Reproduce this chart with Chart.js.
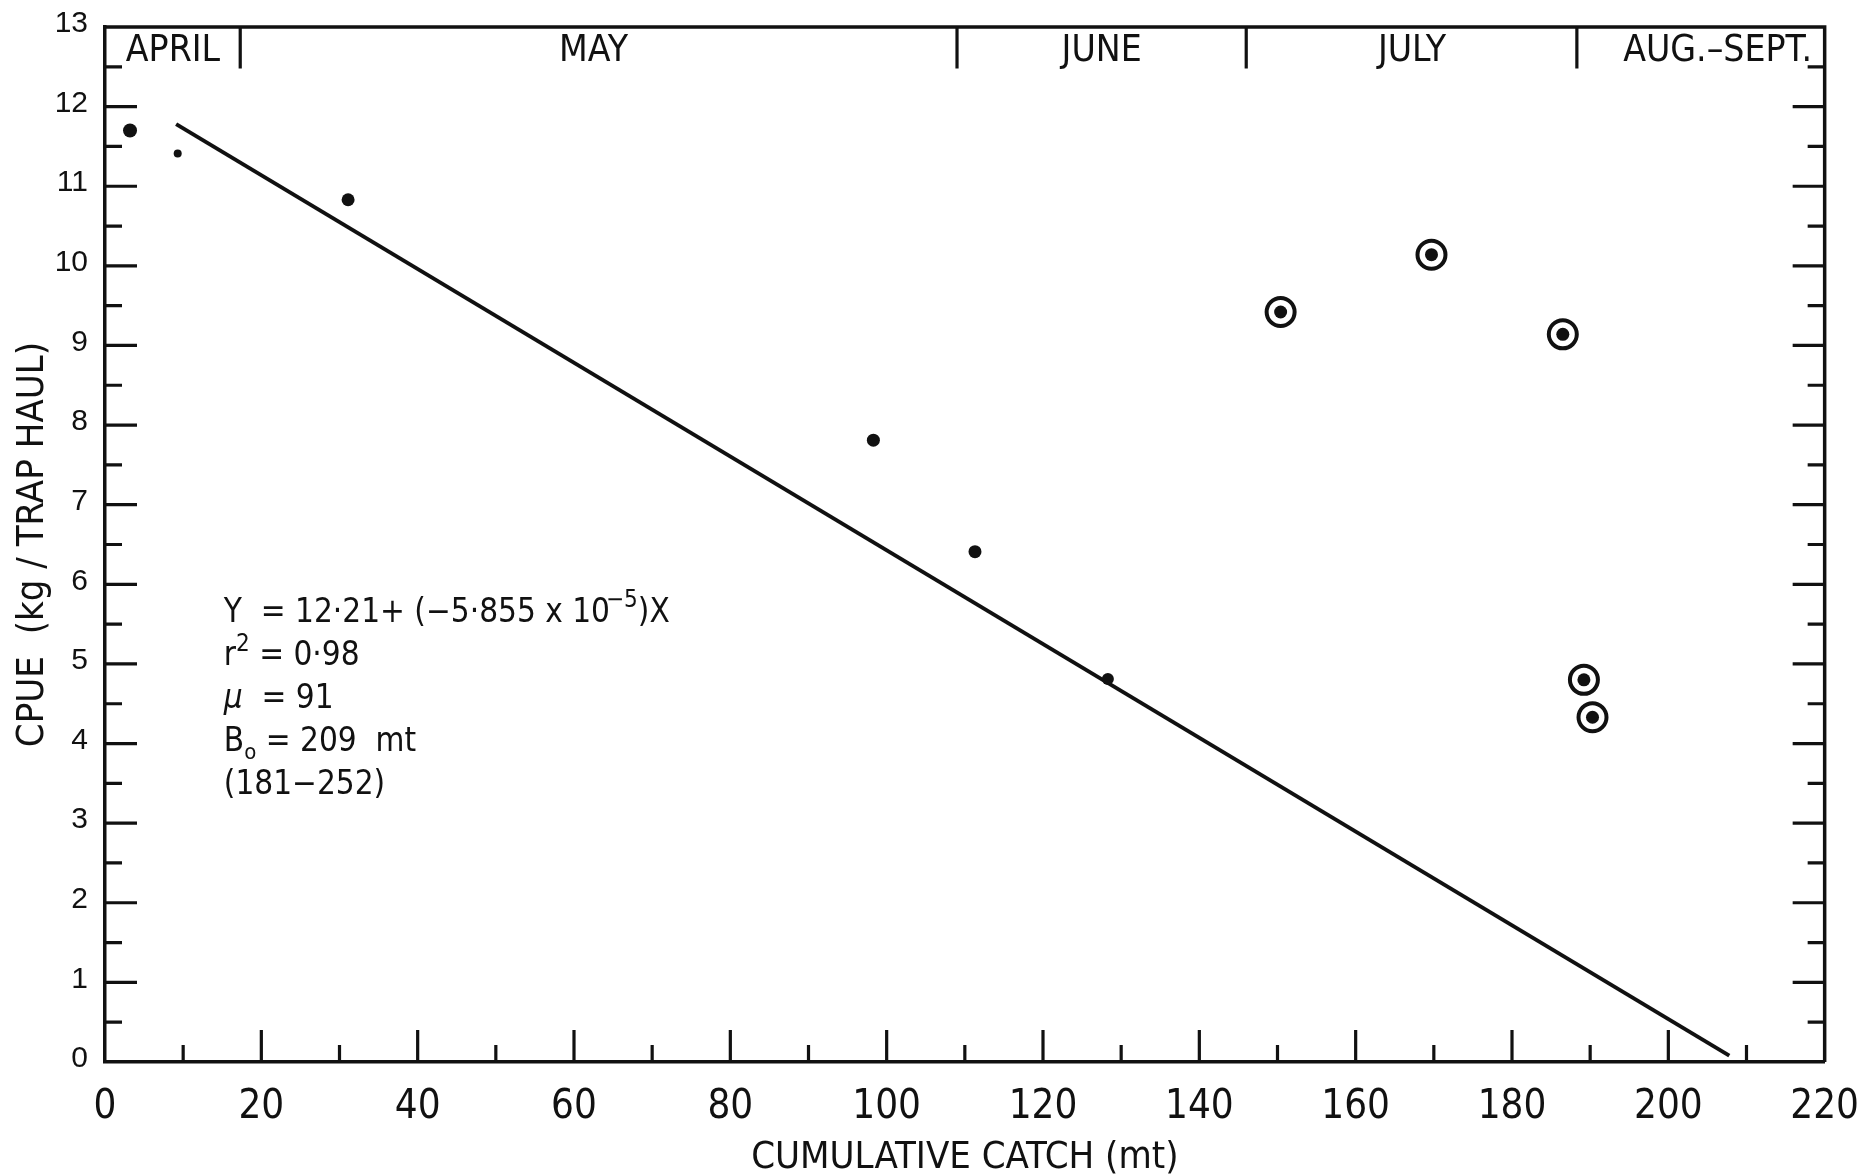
<!DOCTYPE html>
<html>
<head>
<meta charset="utf-8">
<title>CPUE vs cumulative catch</title>
<script src="https://cdn.jsdelivr.net/npm/chart.js@4.4.1/dist/chart.umd.min.js"></script>
<style>
  html, body { margin: 0; padding: 0; background: #fff; }
  #wrap { width: 1873px; height: 1175px; }
</style>
</head>
<body>
<div id="wrap"><canvas id="chart" width="1873" height="1175"></canvas></div>
<script>
// ----- Data -----
const catchMt = [3.2, 9.3, 31.1, 98.3, 111.3, 128.3]
const cpue = [11.70, 11.41, 10.83, 7.81, 6.41, 4.81]

// circled points (left out of the regression)
const circledCatchMt = [150.4, 169.7, 186.5, 189.2, 190.3]
const circledCpue = [9.42, 10.14, 9.14, 4.80, 4.33]

// ends of the fitted line
const fitCatchMt = [9.1, 207.8]
const fitCpue = [11.78, 0.08]

const xTickValues = [0, 20, 40, 60, 80, 100, 120, 140, 160, 180, 200, 220]
const yTickValues = [0, 1, 2, 3, 4, 5, 6, 7, 8, 9, 10, 11, 12, 13]

const months = ["APRIL", "MAY", "JUNE", "JULY", "AUG.\u2013SEPT."]
const monthCentres = [8.7, 62.5, 127.5, 167.2, 206.3]
const monthBreaks = [17.3, 109, 146, 188.3]

// ----- Look -----
const INK = "#111"
const NARROW = "'Liberation Sans Narrow', 'DejaVu Sans Condensed', 'Arial Narrow', sans-serif"
const SANS = "'Liberation Sans', Arial, sans-serif"
const MAJOR_TICK = 32
const MINOR_TICK = 17
const MONTH_ROW_Y = 12.69   // centre of the month labels, in CPUE units
const DIVIDER_END_Y = 12.48
const EQ_AT = { x: 15.2, y: 5.68 }  // first line of the fit notes
const EQ_SIZE = 33
const EQ_LEADING = 43

const points = (xs, ys) => xs.map((x, i) => ({ x, y: ys[i] }))
const midpoints = vals => vals.slice(1).map((v, i) => (v + vals[i]) / 2)

function drawRuns(ctx, x, y, runs) {
  for (const r of runs) {
    ctx.font = `${r.italic ? "italic " : ""}${r.size || EQ_SIZE}px ${NARROW}`
    ctx.fillText(r.t, x + (r.dx || 0), y + (r.dy || 0))
    x += ctx.measureText(r.t).width + (r.dx || 0)
  }
}

// ----- Frame, inward ticks, month band, notes -----
const frame = {
  id: "frame",
  afterDraw(chart) {
    const { ctx, chartArea: a, scales: { x, y } } = chart
    ctx.save()
    ctx.strokeStyle = INK
    ctx.fillStyle = INK

    ctx.lineWidth = 3.5
    ctx.beginPath()
    ctx.moveTo(a.left - 1.5, a.top)
    ctx.lineTo(a.right, a.top)
    ctx.lineTo(a.right, a.bottom)
    ctx.stroke()

    ctx.lineWidth = 3.2
    ctx.beginPath()
    const yMajor = yTickValues.slice(1, -1)
    const yMinor = midpoints(yTickValues)
    yMajor.forEach(v => {
      const py = y.getPixelForValue(v)
      ctx.moveTo(a.left, py); ctx.lineTo(a.left + MAJOR_TICK, py)
      ctx.moveTo(a.right, py); ctx.lineTo(a.right - MAJOR_TICK, py)
    })
    yMinor.forEach(v => {
      const py = y.getPixelForValue(v)
      ctx.moveTo(a.left, py); ctx.lineTo(a.left + MINOR_TICK, py)
      ctx.moveTo(a.right, py); ctx.lineTo(a.right - MINOR_TICK, py)
    })
    xTickValues.slice(1, -1).forEach(v => {
      const px = x.getPixelForValue(v)
      ctx.moveTo(px, a.bottom); ctx.lineTo(px, a.bottom - MAJOR_TICK)
    })
    midpoints(xTickValues).forEach(v => {
      const px = x.getPixelForValue(v)
      ctx.moveTo(px, a.bottom); ctx.lineTo(px, a.bottom - MINOR_TICK)
    })
    // month dividers
    const yEnd = y.getPixelForValue(DIVIDER_END_Y)
    monthBreaks.forEach(v => {
      const px = x.getPixelForValue(v)
      ctx.moveTo(px, a.top); ctx.lineTo(px, yEnd)
    })
    ctx.stroke()

    ctx.font = `37px ${NARROW}`
    ctx.textAlign = "center"
    ctx.textBaseline = "middle"
    months.forEach((m, i) => {
      ctx.fillText(m, x.getPixelForValue(monthCentres[i]), y.getPixelForValue(MONTH_ROW_Y))
    })

    // regression notes
    ctx.textAlign = "left"
    ctx.textBaseline = "alphabetic"
    const ex = x.getPixelForValue(EQ_AT.x)
    const ey = y.getPixelForValue(EQ_AT.y) + 12
    const lines = [
      [{ t: "Y  = 12\u00b721+ (\u22125\u00b7855 x 10" }, { t: "\u22125", size: 24, dy: -15, dx: -4 }, { t: ")X" }],
      [{ t: "r" }, { t: "2", size: 24, dy: -14 }, { t: " = 0\u00b798" }],
      [{ t: "\u03bc", italic: true }, { t: "  = 91" }],
      [{ t: "B" }, { t: "o", size: 22, dy: 8 }, { t: " = 209  mt" }],
      [{ t: "(181\u2212252)" }]
    ]
    lines.forEach((runs, i) => drawRuns(ctx, ex, ey + i * EQ_LEADING, runs))
    ctx.restore()
  }
}

// ----- Chart -----
new Chart(document.getElementById("chart"), {
  type: "scatter",
  data: {
    datasets: [
      {
        label: "CPUE",
        data: points(catchMt, cpue),
        pointRadius: [7, 4, 6.5, 6.5, 6.5, 6],
        pointBackgroundColor: INK,
        pointBorderWidth: 0
      },
      {
        label: "excluded (dot)",
        data: points(circledCatchMt, circledCpue),
        pointRadius: 6.5,
        pointBackgroundColor: INK,
        pointBorderWidth: 0
      },
      {
        label: "excluded (ring)",
        data: points(circledCatchMt, circledCpue),
        pointRadius: 14,
        pointBackgroundColor: "#fff",
        pointBorderColor: INK,
        pointBorderWidth: 4
      },
      {
        label: "fit",
        data: points(fitCatchMt, fitCpue),
        showLine: true,
        borderColor: INK,
        borderWidth: 4,
        pointRadius: 0
      }
    ]
  },
  options: {
    responsive: false,
    animation: false,
    devicePixelRatio: 1,
    layout: { padding: { top: 26, right: 33, left: 0, bottom: 0 } },
    plugins: { legend: { display: false }, tooltip: { enabled: false } },
    scales: {
      x: {
        type: "linear",
        min: 0,
        max: 220,
        afterBuildTicks: s => { s.ticks = xTickValues.map(value => ({ value })) },
        afterFit: s => { s.height = 113 },
        ticks: { color: INK, padding: 14, maxRotation: 0, font: { family: NARROW, size: 40 } },
        grid: { display: false },
        border: { display: true, color: INK, width: 3.5 },
        title: {
          display: true,
          text: "CUMULATIVE CATCH (mt)",
          color: INK,
          font: { family: NARROW, size: 38, lineHeight: 0.9 },
          padding: { top: 0, bottom: 0 }
        }
      },
      y: {
        type: "linear",
        min: 0,
        max: 13,
        afterBuildTicks: s => { s.ticks = yTickValues.map(value => ({ value })) },
        afterFit: s => { s.width = 105 },
        ticks: { color: INK, padding: 9, labelOffset: -3, font: { family: SANS, size: 30 } },
        grid: { display: false },
        border: { display: true, color: INK, width: 3.5 },
        title: {
          display: true,
          text: "CPUE  (kg / TRAP HAUL)",
          color: INK,
          font: { family: NARROW, size: 38, lineHeight: 1 },
          padding: { top: 14, bottom: 0 }
        }
      }
    }
  },
  plugins: [frame]
})
</script>
</body>
</html>
